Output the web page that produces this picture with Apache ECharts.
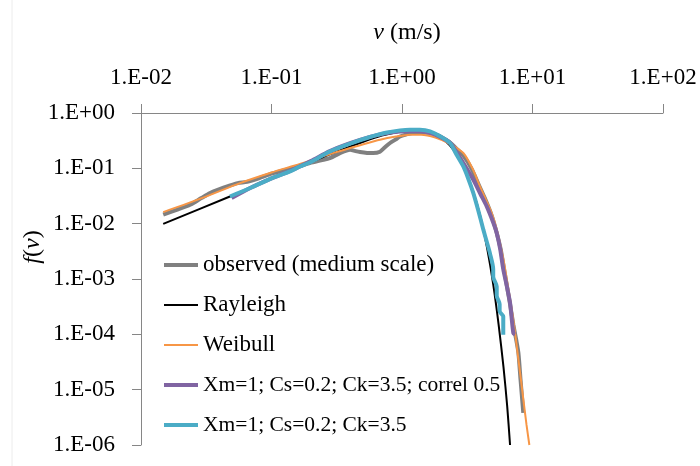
<!DOCTYPE html>
<html><head><meta charset="utf-8">
<script src="https://cdn.jsdelivr.net/npm/echarts@6/dist/echarts.min.js"></script>
<style>html,body{margin:0;padding:0;background:#fff}#c{width:700px;height:466px}</style>
</head><body><div id="c"></div>
<script>
// Tick labels
const xTickExps = [-2, -1, 0, 1, 2];
const xTickLabels = ['1.E-02', '1.E-01', '1.E+00', '1.E+01', '1.E+02'];
const yTickExps = [-6, -5, -4, -3, -2, -1, 0];
const yTickLabels = ['1.E-06', '1.E-05', '1.E-04', '1.E-03', '1.E-02', '1.E-01', '1.E+00'];

const seriesNames = ['observed (medium scale)', 'Rayleigh', 'Weibull',
  'Xm=1; Cs=0.2; Ck=3.5; correl 0.5', 'Xm=1; Cs=0.2; Ck=3.5'];

// observed (medium scale)
const observedV = [0.0148, 0.019, 0.0238, 0.029, 0.0338, 0.04, 0.047, 0.055, 0.065, 0.08, 0.1, 0.13, 0.165, 0.197, 0.24, 0.28, 0.33, 0.40, 0.44, 0.477, 0.54, 0.60, 0.678, 0.74, 0.81, 0.89, 0.966, 1.08, 1.2, 1.4, 1.6, 1.8, 2.0, 2.3, 2.6, 2.95, 3.4, 3.96, 4.4, 4.87, 5.32, 5.7, 6.0, 6.4, 6.73, 7.13, 7.5, 7.8, 8.1, 8.5];
const observedF = [0.0145, 0.018, 0.022, 0.029, 0.0357, 0.042, 0.048, 0.054, 0.057, 0.066, 0.08, 0.095, 0.11, 0.125, 0.14, 0.153, 0.185, 0.217, 0.205, 0.197, 0.19, 0.189, 0.20, 0.24, 0.287, 0.33, 0.377, 0.41, 0.435, 0.445, 0.44, 0.41, 0.37, 0.30, 0.23, 0.17, 0.10, 0.045, 0.026, 0.014, 0.0068, 0.0035, 0.0017, 7e-4, 3.5e-4, 1.5e-4, 8e-5, 4.6e-5, 1.5e-5, 3.8e-6];

// Rayleigh
const rayleighV = [0.0148, 0.048, 0.1, 0.2, 0.35, 0.5, 0.7, 1.0, 1.25, 1.5, 1.8, 2.1, 2.5, 3.0, 3.5, 4.0, 4.5, 5.0, 5.5, 6.0, 6.4, 6.73];
const rayleighF = [0.0099, 0.031, 0.066, 0.13, 0.22, 0.30, 0.39, 0.47, 0.49, 0.47, 0.41, 0.33, 0.21, 0.10, 0.039, 0.013, 0.0035, 8e-4, 1.5e-4, 2.5e-5, 5e-6, 1e-6];

// Weibull
const weibullV = [0.0148, 0.03, 0.0574, 0.1, 0.165, 0.3, 0.5, 0.678, 0.9, 1.15, 1.4, 1.8, 2.3, 2.95, 3.5, 3.96, 4.4, 4.87, 5.32, 6.0, 6.5, 7.13, 7.8, 8.5, 9.0, 9.46];
const weibullF = [0.0162, 0.0295, 0.054, 0.084, 0.12, 0.19, 0.27, 0.329, 0.375, 0.405, 0.405, 0.36, 0.28, 0.189, 0.095, 0.047, 0.027, 0.0155, 0.0078, 0.0022, 7e-4, 1.8e-4, 3.5e-5, 6.8e-6, 2.3e-6, 1e-6];

// Xm=1; Cs=0.2; Ck=3.5; correl 0.5
const correlV = [0.0495, 0.07, 0.1, 0.139, 0.2, 0.28, 0.4, 0.569, 0.75, 0.966, 1.15, 1.37, 1.64, 1.96, 2.33, 2.62, 2.95, 3.52, 4.0, 4.46, 5.0, 5.32, 5.65, 5.97, 6.35, 6.73, 7.13, 7.35];
const correlF = [0.029, 0.045, 0.066, 0.09, 0.135, 0.205, 0.285, 0.37, 0.43, 0.465, 0.47, 0.47, 0.44, 0.37, 0.29, 0.195, 0.125, 0.062, 0.034, 0.0205, 0.0105, 0.0068, 0.0035, 0.0015, 7.5e-4, 3.7e-4, 1.05e-4, 1e-4];

// Xm=1; Cs=0.2; Ck=3.5
const skewV = [0.048, 0.07, 0.1, 0.139, 0.165, 0.2, 0.28, 0.4, 0.569, 0.75, 0.966, 1.15, 1.37, 1.64, 1.96, 2.33, 2.62, 2.95, 3.22, 3.52, 3.85, 4.2, 4.45, 4.72, 5.0, 5.0, 5.32, 5.32, 5.6, 5.6, 5.97, 5.97];
const skewF = [0.031, 0.045, 0.066, 0.088, 0.108, 0.13, 0.202, 0.28, 0.368, 0.44, 0.485, 0.5, 0.499, 0.466, 0.38, 0.287, 0.176, 0.108, 0.065, 0.0357, 0.017, 0.0078, 0.0048, 0.0029, 0.0015, 0.0011, 7.3e-4, 5e-4, 3.5e-4, 2.6e-4, 2.1e-4, 9.8e-5];

const zip = (a, b) => a.map((v, i) => [v, b[i]]);
const FONT = 'Liberation Serif';
const colors = ['#808080', '#000000', '#f79646', '#8064a2', '#4bacc6'];
const widths = [4, 2, 2, 4, 4];

const chart = echarts.init(document.getElementById('c'));
const mk = (i, xs, ys) => ({
  name: seriesNames[i], type: 'line', data: zip(xs, ys), showSymbol: false, symbol: 'none',
  smooth: 0.25, lineStyle: { color: colors[i], width: widths[i] }, itemStyle: { color: colors[i] },
  emphasis: { disabled: true }, animation: false
});

chart.setOption({
  animation: false,
  backgroundColor: '#fff',
  grid: { left: 141, right: 37, top: 113, bottom: 21, containLabel: false },
  xAxis: {
    type: 'log', logBase: 10, min: 0.01, max: 100, position: 'top', splitNumber: 4,
    axisLine: { show: true, lineStyle: { color: '#868686', width: 1 } },
    axisTick: { show: true, inside: false, length: 9, lineStyle: { color: '#868686' } },
    splitLine: { show: false }, minorTick: { show: false },
    axisLabel: {
      margin: 23, color: '#000', fontFamily: FONT, fontSize: 23, lineHeight: 24,
      formatter: v => xTickLabels[xTickExps.indexOf(Math.round(Math.log10(v)))]
    }
  },
  yAxis: {
    type: 'log', logBase: 10, min: 1e-6, max: 1, splitNumber: 6,
    axisLine: { show: true, lineStyle: { color: '#868686', width: 1 } },
    axisTick: { show: true, inside: false, length: 9, lineStyle: { color: '#868686' } },
    splitLine: { show: false }, minorTick: { show: false },
    axisLabel: {
      margin: 26, color: '#000', fontFamily: FONT, fontSize: 23,
      formatter: v => yTickLabels[yTickExps.indexOf(Math.round(Math.log10(v)))]
    }
  },
  legend: {
    orient: 'vertical', left: 164, top: 253, padding: 0, itemWidth: 34, itemHeight: 14, itemGap: 16,
    textStyle: { color: '#000', fontFamily: FONT, fontSize: 23, lineHeight: 24,
      rich: { s: { fontFamily: FONT, fontSize: 21.5, lineHeight: 24, color: '#000' } } },
    formatter: n => (seriesNames.indexOf(n) >= 3 ? '{s|' + n + '}' : n),
    symbolKeepAspect: true,
    data: seriesNames.map((n, i) => ({
      name: n,
      icon: widths[i] >= 4 ? 'path://M0 0H34V4H0Z' : 'path://M0 0H34V2H0Z',
      itemStyle: { color: colors[i] }
    })),
    selectedMode: false
  },
  graphic: [
    { type: 'line', shape: { x1: 12, y1: 0, x2: 12, y2: 466 }, style: { stroke: '#ececec', lineWidth: 1 } },
    { type: 'text', x: 407, y: 33, style: { text: '{i|v} (m/s)', font: '24px "Liberation Serif"', fill: '#000', align: 'center', verticalAlign: 'middle',
      rich: { i: { fontStyle: 'italic', fontFamily: FONT, fontSize: 24 } } } },
    { type: 'text', x: 33, y: 247, rotation: Math.PI / 2, style: { text: '{i|f}({i|v})', font: '24px "Liberation Serif"', fill: '#000', align: 'center', verticalAlign: 'middle',
      rich: { i: { fontStyle: 'italic', fontFamily: FONT, fontSize: 24 } } } }
  ],
  series: [
    mk(0, observedV, observedF),
    mk(1, rayleighV, rayleighF),
    mk(2, weibullV, weibullF),
    mk(3, correlV, correlF),
    mk(4, skewV, skewF)
  ]
});
</script></body></html>
